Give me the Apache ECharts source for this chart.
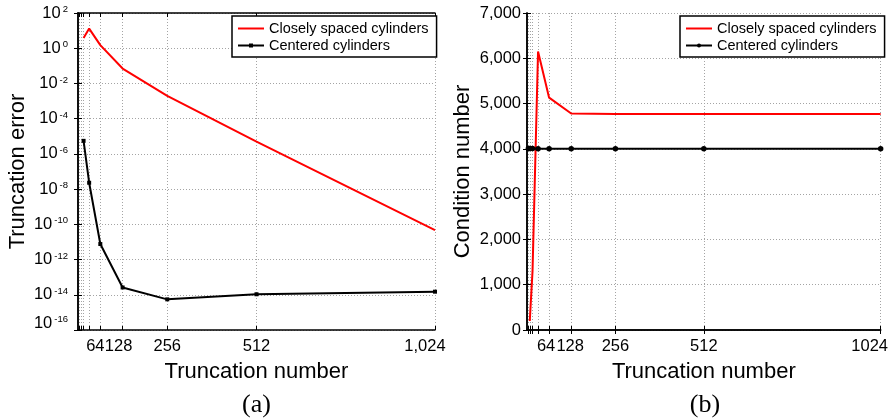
<!DOCTYPE html>
<html>
<head>
<meta charset="utf-8">
<script src="https://cdn.jsdelivr.net/npm/echarts@6/dist/echarts.min.js"></script>
<style>
  html, body { margin: 0; padding: 0; background: #fff; }
  #chart { width: 891px; height: 419px; }
</style>
</head>
<body>
<div id="chart"></div>
<script>
// (a) truncation error versus truncation number
const truncA = [16, 32, 64, 128, 256, 512, 1024];
const errClose = [3.8, 13, 1.5, 0.07, 1.95e-3, 5e-6, 4.7e-11];
const errCentered = [5.5e-6, 2.3e-8, 7.6e-12, 2.6e-14, 5.5e-15, 1.07e-14, 1.5e-14];

// (b) condition number versus truncation number
const truncBClose = [8, 16, 32, 64, 128, 256, 512, 1024];
const condClose = [200, 1300, 6150, 5130, 4780, 4770, 4770, 4770];
const truncBCentered = [4, 8, 16, 32, 64, 128, 256, 512, 1024];
const condCentered = [4010, 4010, 4010, 4005, 4005, 4005, 4005, 4005, 4005];

// Axis ticks and labels
const xGridValues = [4, 8, 16, 32, 64, 128, 256, 512, 1024];
const xLabelValues = [64, 128, 256, 512, 1024];
const xLabelTextA = ['64', '128', '256', '512', '1,024'];
const xLabelTextB = ['64', '128', '256', '512', '1024'];
const yTicksA = [1e-16, 1e-14, 1e-12, 1e-10, 1e-8, 1e-6, 1e-4, 1e-2, 1e0, 1e2];
const yTicksB = [0, 1000, 2000, 3000, 4000, 5000, 6000, 7000];

const legendText = {
  closeA: 'Closely spaced cylinders',
  centeredA: 'Centered cylinders',
  closeB: 'Closely spaced cylinders',
  centeredB: 'Centered cylinders'
};

const SANS = 'Liberation Sans';
const zip = (xs, ys) => xs.map((x, i) => [x, ys[i]]);

const axisLine = { show: true, lineStyle: { color: '#000', width: 1.5 } };
const tickStyle = { show: true, inside: true, length: 4, lineStyle: { color: '#000', width: 1 } };
const gridLine = { show: true, lineStyle: { color: '#a4a4a4', width: 1, type: [1, 2] } };
const nameStyle = { color: '#000', fontSize: 22, fontFamily: SANS };
const tickFont = { color: '#000', fontSize: 16.5, fontFamily: SANS };

// labelNudge: right padding per label, which moves a centred label leftwards
// so that neighbouring labels do not collide and the last one stays in view
function xAxes(gridIndex, labelTexts, labelNudge) {
  const base = {
    type: 'value', gridIndex, min: 0, max: 1024,
    axisLine,
    axisTick: Object.assign({ customValues: xGridValues }, tickStyle)
  };
  const rich = {};
  labelNudge.forEach((p, i) => {
    rich['n' + i] = Object.assign({ padding: [0, p, 0, 0] }, tickFont);
  });
  return [
    Object.assign({}, base, {
      position: 'bottom',
      splitLine: gridLine,
      axisLabel: Object.assign({
        customValues: xLabelValues,
        hideOverlap: false,
        margin: 8,
        formatter: v => {
          const i = xLabelValues.indexOf(v);
          return '{n' + i + '|' + labelTexts[i] + '}';
        },
        rich
      }, tickFont),
      name: 'Truncation number', nameLocation: 'middle', nameGap: 31,
      nameTextStyle: nameStyle
    }),
    Object.assign({}, base, {
      position: 'top', splitLine: { show: false }, axisLabel: { show: false }
    })
  ];
}

// 10 with a raised exponent; the lowest label sits a little above its tick
const expLabel = v => {
  const e = Math.round(Math.log10(v));
  const low = e === -16 ? 'L' : '';
  return '{b' + low + '|10}{s' + low + '|' + e + '}';
};

const yAxisA = {
  type: 'log', logBase: 10, gridIndex: 0, min: 1e-16, max: 1e2,
  axisLine,
  axisTick: Object.assign({ customValues: yTicksA }, tickStyle),
  splitLine: gridLine,
  minorTick: { show: false },
  axisLabel: {
    customValues: yTicksA, margin: 10, formatter: expLabel,
    rich: {
      b: { color: '#000', fontSize: 16.5, fontFamily: SANS },
      s: { color: '#000', fontSize: 9.5, fontFamily: SANS, verticalAlign: 'top', padding: [0, 0, 0, 2] },
      bL: { color: '#000', fontSize: 16.5, fontFamily: SANS, padding: [0, 0, 14, 0] },
      sL: { color: '#000', fontSize: 9.5, fontFamily: SANS, verticalAlign: 'top', padding: [0, 0, 14, 2] }
    }
  },
  name: 'Truncation error', nameLocation: 'middle', nameGap: 49,
  nameTextStyle: nameStyle
};

const yAxisB = {
  type: 'value', gridIndex: 1, min: 0, max: 7000,
  axisLine,
  axisTick: Object.assign({ customValues: yTicksB }, tickStyle),
  splitLine: gridLine,
  axisLabel: Object.assign({
    customValues: yTicksB, margin: 6,
    formatter: v => v.toLocaleString('en-US')
  }, tickFont),
  name: 'Condition number', nameLocation: 'middle', nameGap: 53,
  nameTextStyle: nameStyle
};

const rightTwin = (ax) => Object.assign({}, ax, {
  position: 'right', name: '', splitLine: { show: false }, axisLabel: { show: false }
});

const legendBase = {
  orient: 'vertical', top: 16,
  itemWidth: 26, itemHeight: 5, itemGap: 2,
  padding: [5, 8, 4, 5],
  borderColor: '#000', borderWidth: 1.5, borderRadius: 0,
  backgroundColor: '#fff',
  selectedMode: false,
  formatter: n => legendText[n],
  textStyle: { color: '#000', fontSize: 14.5, fontFamily: SANS, lineHeight: 14 }
};
// a plain red line in the key, without a marker
const plainKey = name => ({ name, itemStyle: { color: 'rgba(0,0,0,0)', borderWidth: 0 } });

const option = {
  animation: false,
  backgroundColor: '#fff',
  grid: [
    { left: 78, top: 13, width: 357, height: 317 },
    { left: 527, top: 13, width: 356, height: 317 }
  ],
  xAxis: [].concat(
    xAxes(0, xLabelTextA, [10, 8, 0, 0, 20]),
    xAxes(1, xLabelTextB, [6, 2, 0, 0, 22])
  ),
  yAxis: [yAxisA, rightTwin(yAxisA), yAxisB, rightTwin(yAxisB)],
  legend: [
    Object.assign({}, legendBase, { left: 232, data: [plainKey('closeA'), 'centeredA'] }),
    Object.assign({}, legendBase, { left: 680, data: [plainKey('closeB'), 'centeredB'] })
  ],
  title: [
    { text: '(a)', left: 256.5, top: 392, textAlign: 'center', padding: 0,
      textStyle: { color: '#000', fontSize: 26, fontWeight: 'normal', fontFamily: 'Liberation Serif' } },
    { text: '(b)', left: 705, top: 392, textAlign: 'center', padding: 0,
      textStyle: { color: '#000', fontSize: 26, fontWeight: 'normal', fontFamily: 'Liberation Serif' } }
  ],
  series: [
    {
      name: 'closeA', type: 'line', xAxisIndex: 0, yAxisIndex: 0,
      data: zip(truncA, errClose), symbol: 'none',
      lineStyle: { color: '#ff0000', width: 2 }, itemStyle: { color: '#ff0000' }
    },
    {
      name: 'centeredA', type: 'line', xAxisIndex: 0, yAxisIndex: 0,
      data: zip(truncA, errCentered), symbol: 'rect', symbolSize: 4,
      lineStyle: { color: '#000', width: 2 }, itemStyle: { color: '#000' }
    },
    {
      name: 'closeB', type: 'line', xAxisIndex: 2, yAxisIndex: 2,
      data: zip(truncBClose, condClose), symbol: 'none',
      lineStyle: { color: '#ff0000', width: 2 }, itemStyle: { color: '#ff0000' }
    },
    {
      name: 'centeredB', type: 'line', xAxisIndex: 2, yAxisIndex: 2,
      data: zip(truncBCentered, condCentered), symbol: 'circle', symbolSize: 5.5,
      lineStyle: { color: '#000', width: 2 }, itemStyle: { color: '#000' }
    }
  ]
};

const chart = echarts.init(document.getElementById('chart'), null, { renderer: 'canvas' });
chart.setOption(option);
</script>
</body>
</html>
